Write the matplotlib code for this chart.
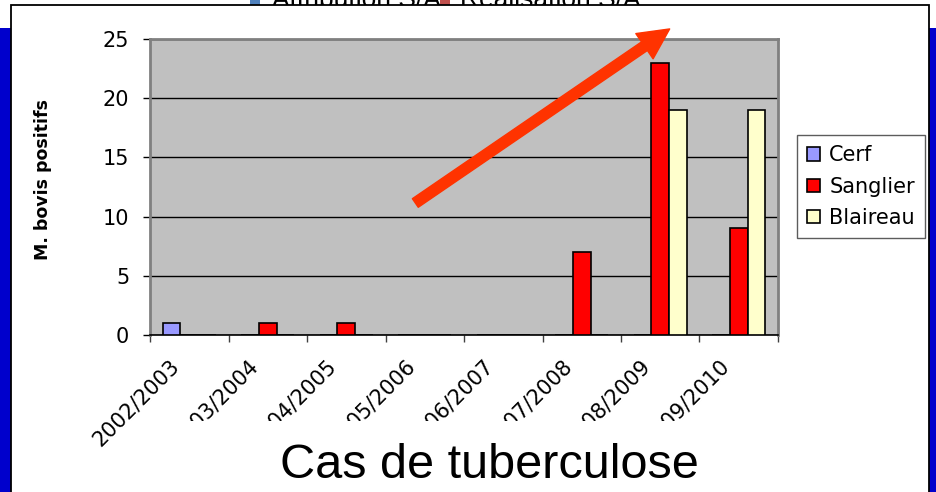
import numpy as np
import matplotlib.pyplot as plt
import matplotlib.patches as mpatches
from matplotlib.transforms import ScaledTranslation

SEASONS = ["2002/2003", "2003/2004", "2004/2005", "2005/2006",
           "2006/2007", "2007/2008", "2008/2009", "2009/2010"]
SPECIES = ["Cerf", "Sanglier", "Blaireau"]
CERF = [1, 0, 0, 0, 0, 0, 0, 0]
SANGLIER = [0, 1, 1, 0, 0, 7, 23, 9]
BLAIREAU = [0, 0, 0, 0, 0, 0, 19, 19]
COLORS = ["#9999FF", "#FF0000", "#FFFFCC"]

W, H = 936, 492
fig = plt.figure(figsize=(W / 100, H / 100), dpi=100)
fig.patch.set_facecolor("white")

# slide background: blue band, hidden chart legend above, white panel
fig.add_artist(mpatches.Rectangle((0, 0), 1, 1 - 28 / H, transform=fig.transFigure,
                                  fc="#0000CC", ec="none", zorder=-5))
fig.text(272 / W, 1 - 7 / H, "Attribution S/A", fontsize=19, family="Liberation Sans",
         va="baseline", zorder=-4)
fig.text(460 / W, 1 - 7 / H, "Réalisation S/A", fontsize=19, family="Liberation Sans",
         va="baseline", zorder=-4)
fig.add_artist(mpatches.Rectangle((250 / W, 1 - 7 / H), 10 / W, 10 / H, transform=fig.transFigure,
                                  fc="#4F81BD", ec="none", zorder=-4))
fig.add_artist(mpatches.Rectangle((440 / W, 1 - 7 / H), 10 / W, 10 / H, transform=fig.transFigure,
                                  fc="#C0504D", ec="none", zorder=-4))
fig.add_artist(mpatches.Rectangle((11 / W, -0.1), 918 / W, 1.1 - 5 / H, transform=fig.transFigure,
                                  fc="white", ec="black", lw=1.3, zorder=-3))

ax = fig.add_axes([150 / W, 157 / H, 628 / W, 296 / H])
ax.set_facecolor("#C0C0C0")

x = np.arange(len(SEASONS))
bw = 0.223
for i, (vals, name, col) in enumerate(zip([CERF, SANGLIER, BLAIREAU], SPECIES, COLORS)):
    ax.bar(x + (i - 1) * bw, vals, bw, color=col, edgecolor="black", lw=1.2,
           label=name, zorder=3)

ax.set_yticks(np.arange(0, 26, 5))
ax.yaxis.grid(True, color="black", lw=1)
ax.set_axisbelow(True)

for s in ["top", "right", "left"]:
    ax.spines[s].set_color("#808080")
    ax.spines[s].set_linewidth(2)
ax.spines["bottom"].set_color("black")
ax.spines["bottom"].set_linewidth(1.2)

ax.tick_params(axis="y", length=5, width=1, color="black", pad=10, labelsize=15)
ax.set_xticks(x)
ax.set_xticklabels([])
ax.tick_params(axis="x", which="major", length=0)
ax.set_xticks(np.arange(-0.5, len(SEASONS), 1), minor=True)
ax.tick_params(axis="x", which="minor", length=5, width=1, color="#404040")

# rotated season labels
shift = ax.get_xaxis_transform() + ScaledTranslation(-0.20, 0, fig.dpi_scale_trans)
for xi, lab in zip(x, SEASONS):
    ax.text(xi, -21 / 296, lab, transform=shift, rotation=45, rotation_mode="anchor",
            ha="right", va="top", fontsize=15, clip_on=False)

ax.set_ylabel("M. bovis positifs", fontsize=12.5, fontweight="bold")
ax.yaxis.set_label_coords(-98 / 628, 0.527)

arrow = mpatches.FancyArrowPatch((2.88, 11.15), (6.12, 25.85),
                                 arrowstyle=mpatches.ArrowStyle.Simple(head_length=22, head_width=22,
                                                                       tail_width=7.5),
                                 mutation_scale=1, color="#FF3300", shrinkA=0, shrinkB=0,
                                 clip_on=False, zorder=6)
ax.add_patch(arrow)
ax.set_xlim(-0.5, len(SEASONS) - 0.5)
ax.set_ylim(0, 25)

leg = ax.legend(loc="upper left", bbox_to_anchor=(797 / W, 1 - 135 / H),
                bbox_transform=fig.transFigure, fontsize=15, frameon=True, fancybox=False,
                borderpad=0.5, labelspacing=0.54, handlelength=0.6, handleheight=0.6,
                handletextpad=0.45, borderaxespad=0)
leg.get_frame().set_edgecolor("#333333")
leg.get_frame().set_linewidth(1)

# slide title box covering the bottom of the season labels
fig.add_artist(mpatches.Rectangle((160 / W, 0), 600 / W, 71 / H, transform=fig.transFigure,
                                  fc="white", ec="none", zorder=1))
fig.text(489.5 / W, 14 / H, "Cas de tuberculose", fontsize=35, family="Liberation Sans",
         ha="center", va="baseline", zorder=2)

fig.savefig("out.png", dpi=100)
